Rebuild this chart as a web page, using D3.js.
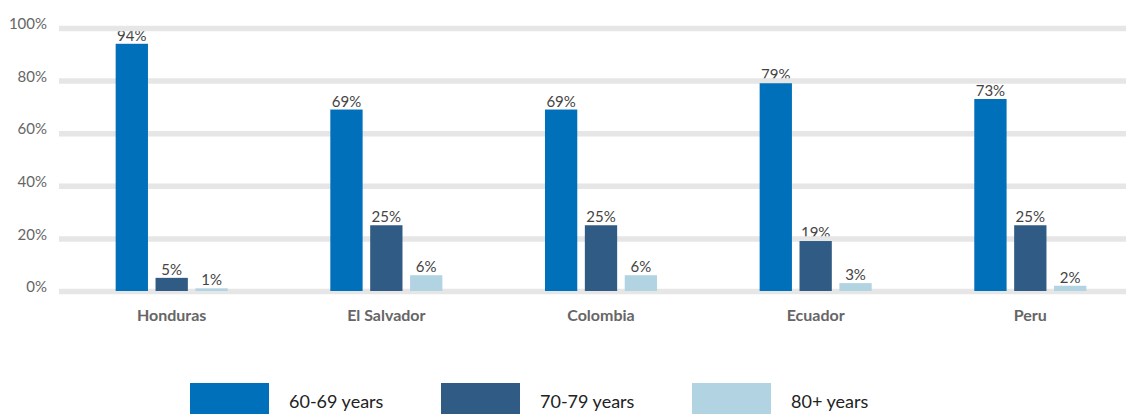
<!DOCTYPE html>
<html>
<head>
<meta charset="utf-8">
<script src="https://cdn.jsdelivr.net/npm/d3@7"></script>
<style>
  html, body { margin: 0; padding: 0; background: #fff; }
  svg { display: block; font-family: Lato, "Open Sans", sans-serif; }
</style>
</head>
<body>
<svg id="chart" width="1126" height="414"></svg>
<script>
const countries = ["Honduras", "El Salvador", "Colombia", "Ecuador", "Peru"];
const seriesNames = ["60-69 years", "70-79 years", "80+ years"];
const age60_69 = [94, 69, 69, 79, 73];
const age70_79 = [5, 25, 25, 19, 25];
const age80plus = [1, 6, 6, 3, 2];
const yTicks = [0, 20, 40, 60, 80, 100];
const colors = ["#0070BA", "#305B84", "#B2D3E2"];

const seriesValues = [age60_69, age70_79, age80plus];
const data = countries.map((c, i) => ({
  country: c,
  values: seriesNames.map((s, j) => ({ series: s, value: seriesValues[j][i] }))
}));

const svg = d3.select("#chart");
const W = 1126;

const y = d3.scaleLinear().domain([0, 100]).range([291, 28]);
const x0 = d3.scaleBand().domain(countries).range([62, 1140]).paddingInner(0.478).paddingOuter(0.25);
const x1 = d3.scaleBand().domain(seriesNames).range([0, x0.bandwidth()]).paddingInner(0.19).paddingOuter(0);
const color = d3.scaleOrdinal().domain(seriesNames).range(colors);

// value labels (drawn beneath gridlines as in the original)
const groups = svg.append("g").selectAll("g.lbl").data(data).join("g")
  .attr("transform", d => `translate(${x0(d.country)},0)`);
groups.selectAll("text").data(d => d.values).join("text")
  .attr("x", d => x1(d.series) + x1.bandwidth() / 2)
  .attr("y", d => y(d.value) - 3)
  .attr("text-anchor", "middle")
  .attr("font-size", 15)
  .attr("fill", "#444")
  .text(d => d.value + "%");

// gridlines + y labels
const yAxis = svg.append("g");
yAxis.selectAll("line").data(yTicks).join("line")
  .attr("x1", 59).attr("x2", W)
  .attr("y1", d => y(d) + 0.5).attr("y2", d => y(d) + 0.5)
  .attr("stroke", "#E6E6E6").attr("stroke-width", 5.5);
yAxis.selectAll("text").data(yTicks).join("text")
  .attr("x", 47)
  .attr("y", d => y(d) - 4)
  .attr("dy", "0.35em")
  .attr("text-anchor", "end")
  .attr("font-size", 15)
  .attr("fill", "#666")
  .text(d => d + "%");

// bars
const barGroups = svg.append("g").selectAll("g.bar").data(data).join("g")
  .attr("transform", d => `translate(${x0(d.country)},0)`);
barGroups.selectAll("rect").data(d => d.values).join("rect")
  .attr("x", d => x1(d.series))
  .attr("y", d => y(d.value))
  .attr("width", x1.bandwidth())
  .attr("height", d => y(0) - y(d.value))
  .attr("fill", d => color(d.series));

// category labels
svg.append("g").selectAll("text").data(countries).join("text")
  .attr("x", d => x0(d) + x0.bandwidth() / 2)
  .attr("y", 321)
  .attr("text-anchor", "middle")
  .attr("font-size", 16)
  .attr("font-weight", "bold")
  .attr("fill", "#666")
  .text(d => d);

// legend
const legendX = d3.scalePoint().domain(seriesNames).range([190, 692]);
const lg = svg.append("g").selectAll("g").data(seriesNames).join("g")
  .attr("transform", d => `translate(${legendX(d)},383)`);
lg.append("rect").attr("width", 79).attr("height", 31).attr("fill", d => color(d));
lg.append("text").attr("x", 99).attr("y", 25)
  .attr("font-size", 18).attr("fill", "#222").text(d => d);
</script>
</body>
</html>
